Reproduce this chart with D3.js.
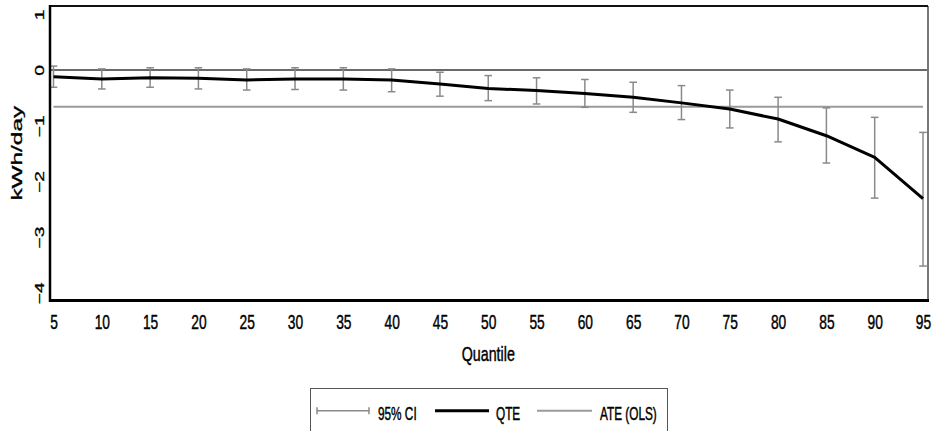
<!DOCTYPE html>
<html>
<head>
<meta charset="utf-8">
<script src="https://cdn.jsdelivr.net/npm/d3@7"></script>
<style>
  html, body { margin: 0; padding: 0; background: #fff; }
  svg { display: block; }
  text { font-family: "Liberation Sans", Arial, sans-serif; fill: #000; stroke: #000; stroke-width: 0.3px; }
</style>
</head>
<body>
<svg id="chart" width="936" height="431"></svg>
<script>
// ---- data ----
const quantiles = [5, 10, 15, 20, 25, 30, 35, 40, 45, 50, 55, 60, 65, 70, 75, 80, 85, 90, 95];
const qte    = [-0.12, -0.16, -0.14, -0.15, -0.18, -0.16, -0.16, -0.18, -0.25, -0.33, -0.37, -0.42, -0.49, -0.59, -0.70, -0.88, -1.18, -1.57, -2.31];
const ciLow  = [-0.31, -0.34, -0.31, -0.34, -0.36, -0.35, -0.36, -0.39, -0.47, -0.55, -0.61, -0.67, -0.76, -0.89, -1.04, -1.29, -1.67, -2.30, -3.52];
const ciHigh = [0.07, 0.02, 0.04, 0.04, 0.02, 0.04, 0.04, 0.02, -0.04, -0.10, -0.14, -0.17, -0.22, -0.28, -0.36, -0.49, -0.68, -0.85, -1.12];
const ateOLS = -0.66;
const yTicks = [1, 0, -1, -2, -3, -4];
const xTicks = quantiles;
const legendLabels = ["95% CI", "QTE", "ATE (OLS)"];
const xLabel = "Quantile";
const yLabel = "kWh/day";

// ---- layout ----
const svg = d3.select("#chart");
const frame = { left: 50, right: 928, top: 6, bottom: 300.5 };
const x = d3.scaleLinear().domain([5, 95]).range([53.5, 923]);
const y = d3.scaleLinear().domain([-4.138, 1.149]).range([frame.bottom, frame.top]);

const ciColor = "#8a8a8a";
const ateColor = "#9a9a9a";
const zeroColor = "#6a6a6a";

// zero reference line
svg.append("line")
  .attr("x1", frame.left).attr("x2", frame.right)
  .attr("y1", y(0)).attr("y2", y(0))
  .attr("stroke", zeroColor).attr("stroke-width", 2);

// ATE (OLS) line
svg.append("line")
  .attr("x1", x(quantiles[0])).attr("x2", x(quantiles[quantiles.length - 1]))
  .attr("y1", y(ateOLS)).attr("y2", y(ateOLS))
  .attr("stroke", ateColor).attr("stroke-width", 2);

// error bars
const rows = quantiles.map((q, i) => ({ q, lo: ciLow[i], hi: ciHigh[i], v: qte[i] }));
const eb = svg.append("g").attr("stroke", ciColor).attr("stroke-width", 1.5).attr("fill", "none");
const capW = 3.8;
rows.forEach(d => {
  eb.append("line").attr("x1", x(d.q)).attr("x2", x(d.q)).attr("y1", y(d.hi)).attr("y2", y(d.lo));
  eb.append("line").attr("x1", x(d.q) - capW).attr("x2", x(d.q) + capW).attr("y1", y(d.hi)).attr("y2", y(d.hi));
  eb.append("line").attr("x1", x(d.q) - capW).attr("x2", x(d.q) + capW).attr("y1", y(d.lo)).attr("y2", y(d.lo));
});

// QTE line
svg.append("path")
  .datum(rows)
  .attr("fill", "none")
  .attr("stroke", "#000")
  .attr("stroke-width", 3)
  .attr("stroke-linejoin", "round")
  .attr("d", d3.line().x(d => x(d.q)).y(d => y(d.v)));

// frame
svg.append("line").attr("x1", frame.right).attr("x2", frame.right).attr("y1", frame.top).attr("y2", frame.bottom)
  .attr("stroke", "#777").attr("stroke-width", 2);
svg.append("line").attr("x1", frame.left).attr("x2", frame.right).attr("y1", frame.top).attr("y2", frame.top)
  .attr("stroke", "#111").attr("stroke-width", 2);
svg.append("line").attr("x1", frame.left).attr("x2", frame.left).attr("y1", frame.top - 1).attr("y2", frame.bottom + 1.5)
  .attr("stroke", "#000").attr("stroke-width", 2.5);
svg.append("line").attr("x1", frame.left).attr("x2", frame.right + 1).attr("y1", frame.bottom).attr("y2", frame.bottom)
  .attr("stroke", "#000").attr("stroke-width", 3);

// x axis (no tick marks), stretched labels
const xAxis = d3.axisBottom(x).tickValues(xTicks).tickSize(0).tickFormat(d3.format("d"));
const gx = svg.append("g").attr("transform", `translate(0,${frame.bottom})`).call(xAxis);
gx.select(".domain").remove();
gx.selectAll(".tick text")
  .attr("y", 0).attr("dy", null)
  .attr("font-size", 13.8)
  .attr("font-family", "'Liberation Sans', Arial, sans-serif")
  .attr("fill", "#000")
  .attr("transform", "translate(0,28.5) scale(1,1.45)");

// y axis (no tick marks), rotated stretched labels
const yAxis = d3.axisLeft(y).tickValues(yTicks).tickSize(0).tickFormat(d => d < 0 ? "\u2212" + Math.abs(d) : String(d));
const gy = svg.append("g").attr("transform", `translate(${frame.left},0)`).call(yAxis);
gy.select(".domain").remove();
gy.selectAll(".tick text")
  .attr("x", 0).attr("y", 0).attr("dy", null)
  .attr("text-anchor", "middle")
  .attr("font-size", 12.8)
  .attr("font-family", "'Liberation Sans', Arial, sans-serif")
  .attr("fill", "#000")
  .attr("transform", "translate(-6.5,0) rotate(-90) scale(1.5,1)");

// axis titles
svg.append("text")
  .attr("text-anchor", "middle")
  .attr("font-size", 14.3)
  .attr("transform", `translate(${(x(5) + x(95)) / 2},360.5) scale(1,1.42)`)
  .text(xLabel);
svg.append("text")
  .attr("text-anchor", "middle")
  .attr("font-size", 14.5)
  .attr("transform", `translate(22,${(frame.top + frame.bottom) / 2}) rotate(-90) scale(1.68,1)`)
  .text(yLabel);

// legend
const lg = svg.append("g");
lg.append("rect").attr("x", 310.5).attr("y", 388.5).attr("width", 357).attr("height", 60)
  .attr("fill", "#fff").attr("stroke", "#555").attr("stroke-width", 1);
const ly = 410.7;
// CI sample
lg.append("line").attr("x1", 317).attr("x2", 369).attr("y1", ly).attr("y2", ly).attr("stroke", ciColor).attr("stroke-width", 1.5);
lg.append("line").attr("x1", 317).attr("x2", 317).attr("y1", ly - 3.5).attr("y2", ly + 3.5).attr("stroke", ciColor).attr("stroke-width", 1.5);
lg.append("line").attr("x1", 369).attr("x2", 369).attr("y1", ly - 3.5).attr("y2", ly + 3.5).attr("stroke", ciColor).attr("stroke-width", 1.5);
// QTE sample
lg.append("line").attr("x1", 435).attr("x2", 489).attr("y1", ly).attr("y2", ly).attr("stroke", "#000").attr("stroke-width", 3);
// ATE sample
lg.append("line").attr("x1", 537).attr("x2", 592).attr("y1", ly).attr("y2", ly).attr("stroke", ateColor).attr("stroke-width", 2);
const legendX = [378, 496, 600];
legendLabels.forEach((t, i) => {
  lg.append("text")
    .attr("font-size", 11.8)
    .attr("transform", `translate(${legendX[i]},419.5) scale(1,1.55)`)
    .text(t);
});
</script>
</body>
</html>
